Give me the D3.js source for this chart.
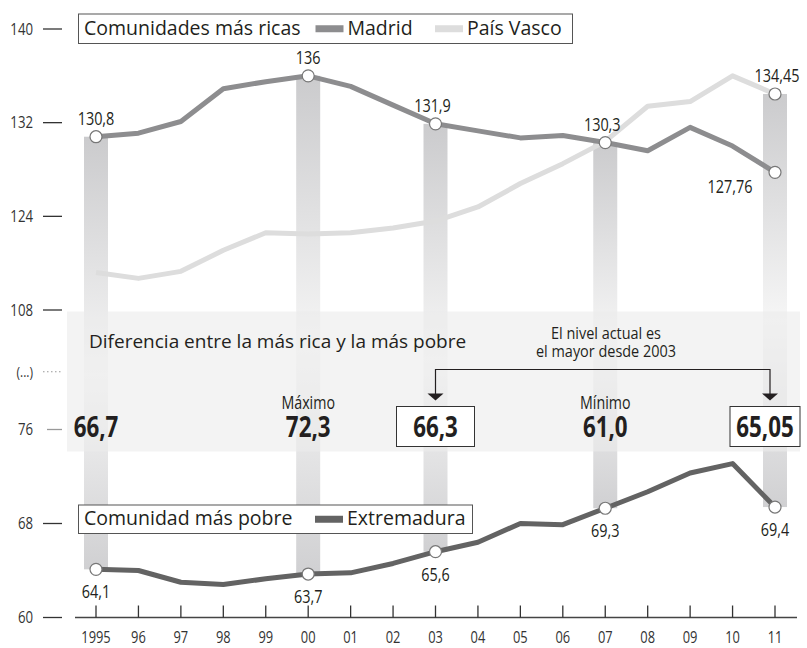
<!DOCTYPE html>
<html>
<head>
<meta charset="utf-8">
<script src="https://cdn.jsdelivr.net/npm/d3@7"></script>
<style>
  html, body { margin: 0; padding: 0; background: #fff; }
  svg { display: block; }
  text { font-family: "Open Sans", "Noto Sans", sans-serif; fill: #231f20; }
</style>
</head>
<body>
<svg id="chart" width="807" height="648"></svg>
<script>
// ---------- data ----------
const years = [1995,1996,1997,1998,1999,2000,2001,2002,2003,2004,2005,2006,2007,2008,2009,2010,2011];
const xTickLabels = ["1995","96","97","98","99","00","01","02","03","04","05","06","07","08","09","10","11"];
const madrid      = [130.8,131.1,132.1,134.9,135.5,136.0,135.1,133.5,131.9,131.3,130.7,130.9,130.3,129.6,131.6,130.0,127.76];
const paisVasco   = [119.2,118.7,119.3,121.1,122.6,122.5,122.6,123.0,123.6,124.8,126.8,128.5,130.4,133.4,133.8,136.0,134.45];
const extremadura = [64.1,64.0,63.0,62.8,63.3,63.7,63.8,64.6,65.6,66.4,68.0,67.9,69.3,70.7,72.3,73.1,69.4];

const highlightYears = [1995,2000,2003,2007,2011];
const richest  = [130.8,136,131.9,130.3,134.45];
const poorest  = [64.1,63.7,65.6,69.3,69.4];
const richLabels = ["130,8","136","131,9","130,3","134,45"];
const poorLabels = ["64,1","63,7","65,6","69,3","69,4"];
const gapLabels  = ["66,7","72,3","66,3","61,0","65,05"];
const gapNotes   = ["","Máximo","","Mínimo",""];
const gapBoxed   = [false,false,true,false,true];
const madrid2011Label = "127,76";

const topTickValues = [140,132,124,116];
const topTickLabels = ["140","132","124","108"];
const botTickValues = [76,68,60];
const botTickLabels = ["76","68","60"];

// ---------- scales ----------
const x    = d3.scaleLinear().domain([1995,2011]).range([96,775]);
const yTop = d3.scaleLinear().domain([116,140]).range([310,29]);
const yBot = d3.scaleLinear().domain([60,76]).range([617.5,429.5]);

const svg = d3.select("#chart");
const defs = svg.append("defs");
const grad = defs.append("linearGradient").attr("id","barGrad")
  .attr("x1",0).attr("y1",0).attr("x2",0).attr("y2",1);
grad.append("stop").attr("offset",0).attr("stop-color","#cbcbcd");
grad.append("stop").attr("offset",0.55).attr("stop-color","#f6f6f6");
grad.append("stop").attr("offset",1).attr("stop-color","#d0d0d2");

// condensed text helper
function ctext(g, px, py, str, o) {
  return g.append("text")
    .attr("transform", `translate(${px},${py}) scale(${o.sx||1},1)`)
    .attr("text-anchor", o.anchor || "start")
    .style("font-size", (o.size||16) + "px")
    .style("font-weight", o.weight || 400)
    .style("fill", o.fill || "#231f20")
    .text(str);
}

// ---------- vertical highlight bars ----------
const gBars = svg.append("g");
highlightYears.forEach((yr,i) => {
  gBars.append("rect")
    .attr("x", x(yr) - 12).attr("width", 24)
    .attr("y", yTop(richest[i]))
    .attr("height", yBot(poorest[i]) - yTop(richest[i]))
    .attr("fill","url(#barGrad)");
});

// ---------- middle band ----------
svg.append("rect").attr("x",67).attr("y",311.5).attr("width",733).attr("height",140)
  .attr("fill","#ebebeb").attr("opacity",0.62);

// ---------- y axis ----------
const gY = svg.append("g");
topTickValues.forEach((v,i) => {
  const yy = yTop(v);
  gY.append("line").attr("x1",43).attr("x2",62).attr("y1",yy).attr("y2",yy)
    .attr("stroke","#333").attr("stroke-width",1.3);
  ctext(gY, 33, yy+5.5, topTickLabels[i], {size:16.5, sx:0.8, anchor:"end", fill:"#333"});
});
botTickValues.forEach((v,i) => {
  const yy = yBot(v);
  gY.append("line").attr("x1", v === 76 ? 47 : 43).attr("x2",62).attr("y1",yy).attr("y2",yy)
    .attr("stroke", v === 76 ? "#999" : "#333").attr("stroke-width",1.3);
  ctext(gY, 33, yy+5.5, botTickLabels[i], {size:16.5, sx:0.8, anchor:"end", fill:"#333"});
});
const yDots = (yTop(116) + yBot(76)) / 2 + 2;
gY.append("line").attr("x1",43).attr("x2",62).attr("y1",yDots).attr("y2",yDots)
  .attr("stroke","#999").attr("stroke-width",1.2).attr("stroke-dasharray","1.5,2.5");
ctext(gY, 33, yDots+5, "(...)", {size:15, sx:0.8, anchor:"end", fill:"#333"});

// ---------- x axis ----------
const gX = svg.append("g");
gX.append("line").attr("x1",75).attr("x2",797).attr("y1",yBot(60)).attr("y2",yBot(60))
  .attr("stroke","#444").attr("stroke-width",1.5);
years.forEach((yr,i) => {
  gX.append("line").attr("x1",x(yr)).attr("x2",x(yr)).attr("y1",yBot(60)-12).attr("y2",yBot(60))
    .attr("stroke","#333").attr("stroke-width",1.3);
  ctext(gX, x(yr), 642.5, xTickLabels[i], {size:16.5, sx:0.78, anchor:"middle", fill:"#333"});
});

// ---------- lines ----------
const lineTop = d3.line().x((d,i) => x(years[i])).y(d => yTop(d));
const lineBot = d3.line().x((d,i) => x(years[i])).y(d => yBot(d));
svg.append("path").datum(paisVasco).attr("d",lineTop).attr("fill","none")
  .attr("stroke","#dddddd").attr("stroke-width",5).attr("stroke-linejoin","round");
svg.append("path").datum(madrid).attr("d",lineTop).attr("fill","none")
  .attr("stroke","#8d8d8f").attr("stroke-width",5).attr("stroke-linejoin","round");
svg.append("path").datum(extremadura).attr("d",lineBot).attr("fill","none")
  .attr("stroke","#636363").attr("stroke-width",5).attr("stroke-linejoin","round");

// ---------- circles ----------
const gC = svg.append("g");
function dot(cx, cy) {
  gC.append("circle").attr("cx",cx).attr("cy",cy).attr("r",6)
    .attr("fill","#fff").attr("stroke","#777").attr("stroke-width",1.2);
}
highlightYears.forEach((yr,i) => {
  dot(x(yr), yTop(richest[i]));
  dot(x(yr), yBot(poorest[i]));
});
dot(x(2011), yTop(madrid[madrid.length-1]));

// ---------- value labels ----------
const gL = svg.append("g");
const richDx = [0,0,-3,-3,2];
highlightYears.forEach((yr,i) => {
  ctext(gL, x(yr)+richDx[i], yTop(richest[i]) - 12, richLabels[i], {size:18.5, sx:0.78, anchor:"middle"});
  ctext(gL, x(yr), yBot(poorest[i]) + 29, poorLabels[i], {size:18.5, sx:0.78, anchor:"middle"});
});
ctext(gL, x(2011)-45, yTop(madrid[madrid.length-1]) + 21, madrid2011Label, {size:18.5, sx:0.78, anchor:"middle"});

// ---------- legends ----------
function legend(y0, h, x1, title, items) {
  const g = svg.append("g");
  g.append("rect").attr("x",78.5).attr("y",y0).attr("width",x1-78.5).attr("height",h)
    .attr("fill","#fff").attr("stroke","#555").attr("stroke-width",1);
  g.append("text").attr("x",84).attr("y",y0+h-8.5).style("font-size","19.5px").text(title);
  items.forEach(it => {
    g.append("rect").attr("x",it.sx).attr("y",y0+h/2-3.5).attr("width",28).attr("height",7).attr("fill",it.color);
    g.append("text").attr("x",it.sx+32).attr("y",y0+h-8.5).style("font-size","19.5px").text(it.name);
  });
}
legend(14, 29.5, 572.5, "Comunidades más ricas", [
  {name:"Madrid", color:"#8d8d8f", sx:315.5},
  {name:"País Vasco", color:"#dddddd", sx:435}
]);
legend(505, 28.5, 472.5, "Comunidad más pobre", [
  {name:"Extremadura", color:"#636363", sx:315}
]);

// ---------- difference band content ----------
const gD = svg.append("g");
gD.append("text").attr("x",89).attr("y",348).style("font-size","19px")
  .text("Diferencia entre la más rica y la más pobre");
const note = gD.append("text")
  .attr("transform", "translate(606,0) scale(0.85,1)")
  .attr("text-anchor","middle").style("font-size","17px");
note.append("tspan").attr("x",0).attr("y",339).text("El nivel actual es");
note.append("tspan").attr("x",0).attr("y",357).text("el mayor desde 2003");

const arrowL = x(2003), arrowR = x(2011) - 5;
gD.append("path")
  .attr("d", `M${arrowL},394 V369.5 H${arrowR} V394`)
  .attr("fill","none").attr("stroke","#231f20").attr("stroke-width",1.2);
[arrowL, arrowR].forEach(ax => {
  gD.append("path").attr("d", `M${ax-8},393.5 L${ax+8},393.5 L${ax},400.5 Z`).attr("fill","#231f20");
});

const boxCenters = highlightYears.map(yr => x(yr));
boxCenters[4] = 765;
highlightYears.forEach((yr,i) => {
  const cx = boxCenters[i];
  if (gapBoxed[i]) {
    const w = i === 4 ? 70 : 78;
    gD.append("rect").attr("x", cx - w/2).attr("y",406.5).attr("width",w).attr("height",40)
      .attr("fill","#fff").attr("stroke","#333").attr("stroke-width",1);
  }
  const t = gD.append("text")
    .attr("transform", `translate(${cx},0) scale(0.77,1)`)
    .attr("text-anchor","middle");
  if (gapNotes[i]) {
    t.append("tspan").attr("x",0).attr("y",409).style("font-size","18.5px").text(gapNotes[i]);
  }
  t.append("tspan").attr("x",0).attr("y",437).style("font-size","29px").style("font-weight",700)
    .text(gapLabels[i]);
});
</script>
</body>
</html>
